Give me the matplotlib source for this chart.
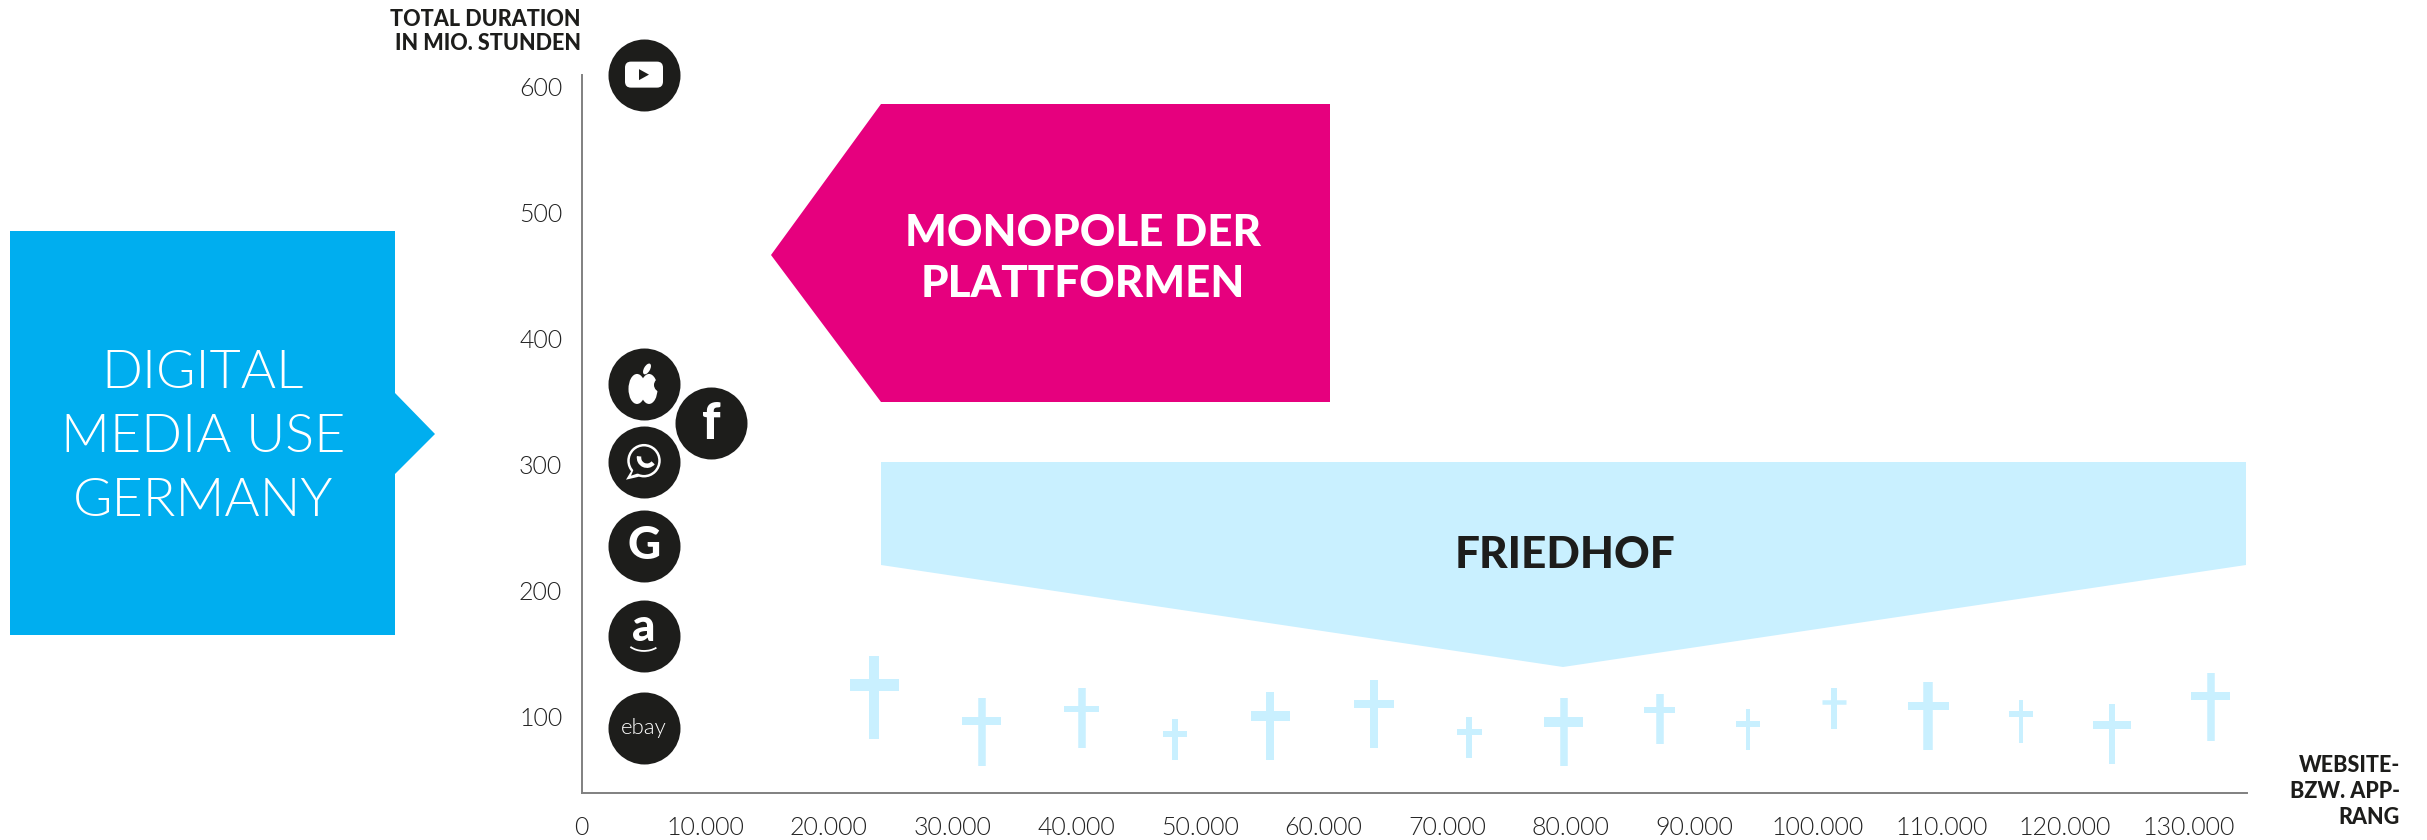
import matplotlib
matplotlib.use('Agg')
import matplotlib.pyplot as plt
from matplotlib import font_manager
from matplotlib.patches import Polygon, FancyBboxPatch, Circle, Ellipse, Arc

W, H = 2427, 840
plt.rcParams['font.family'] = ['Lato', 'DejaVu Sans']

DARK = '#1D1D1B'
PINK = '#E6007E'
BLUE = '#00AEEF'
PALE = '#C9F0FF'

# "light" by name lands on Lato Hairline, so look the real Light file up
light_files = [f.fname for f in font_manager.fontManager.ttflist
               if f.name == 'Lato' and f.fname.endswith('Lato-Light.ttf')]
if light_files:
    def light(size):
        return font_manager.FontProperties(fname=light_files[0], size=size)
else:
    def light(size):
        return font_manager.FontProperties(family='Lato', size=size)

# apps: rank, total duration
app_names = ['youtube', 'apple', 'facebook', 'whatsapp', 'google', 'amazon', 'ebay']
app_rank = [5040, 5040, 10460, 5040, 5040, 5040, 5040]
app_hours = [609.8, 364.3, 333.3, 302.6, 235.7, 164.3, 91.3]

# crosses on the "Friedhof": rank, lower end, upper end, height of the arm
cross_rank = [23660, 32360, 40450, 48010, 55690, 64100, 71790, 79460, 87210, 94380,
              101300, 108950, 116440, 123810, 131800]
cross_low = [82.5, 61.1, 75.4, 65.9, 65.9, 75.4, 67.5, 61.1, 78.6, 73.8, 90.5, 73.8, 79.4, 62.7, 81.0]
cross_high = [148.4, 115.1, 123.0, 98.4, 119.8, 129.4, 100.0, 115.1, 118.3, 106.3, 123.0, 127.8, 113.5, 110.3, 134.9]
cross_arm = [125.4, 96.8, 106.3, 86.5, 100.8, 110.3, 88.1, 96.0, 105.6, 94.4, 112.0, 108.7, 102.4, 93.6, 116.7]
cross_span = [1980, 1580, 1420, 970, 1580, 1580, 1010, 1580, 1250, 970, 970, 1660, 970, 1500, 1580]

x_ticks = list(range(0, 140000, 10000))
x_labels = ['0', '10.000', '20.000', '30.000', '40.000', '50.000', '60.000', '70.000',
            '80.000', '90.000', '100.000', '110.000', '120.000', '130.000']
y_ticks = [100, 200, 300, 400, 500, 600]

# drawing sizes of the crosses, in pixels
stem_px = [10, 7.5, 7.5, 6, 8, 8, 6, 7.5, 7.5, 4, 6, 9.5, 4, 6, 7.5]
bar_px = [12, 8, 6, 6, 10, 8, 6, 10, 6, 6, 4.5, 8, 6, 8, 8]

fig = plt.figure(figsize=(W / 100, H / 100), dpi=100, facecolor='white')

# the shapes and headings are laid out in picture pixels
deco = fig.add_axes([0, 0, 1, 1], zorder=1)
deco.set_xlim(0, W)
deco.set_ylim(H, 0)
deco.axis('off')

deco.add_patch(Polygon([(10, 231), (395, 231), (395, 393), (435, 434), (395, 474), (395, 635), (10, 635)],
                       fc=BLUE, ec='none'))
deco.add_patch(Polygon([(771, 255), (881, 104), (1330, 104), (1330, 402), (881, 402)], fc=PINK, ec='none'))
deco.add_patch(Polygon([(881, 462), (2246, 462), (2246, 565), (1563, 667), (881, 565)], fc=PALE, ec='none'))

deco.text(203, 373, 'DIGITAL', color='white', fontproperties=light(38.8), ha='center', va='center')
deco.text(203, 438, 'MEDIA USE', color='white', fontproperties=light(38.8), ha='center', va='center')
deco.text(203, 501, 'GERMANY', color='white', fontproperties=light(38.8), ha='center', va='center')
deco.text(1083, 233, 'MONOPOLE DER', color='white', fontsize=31.6, fontweight='black', ha='center', va='center')
deco.text(1083, 284, 'PLATTFORMEN', color='white', fontsize=31.6, fontweight='black', ha='center', va='center')
deco.text(1565, 555, 'FRIEDHOF', color=DARK, fontsize=31.8, fontweight='black', ha='center', va='center')

deco.text(581, 19, 'TOTAL DURATION', color=DARK, fontsize=15.5, fontweight='black', ha='right', va='center')
deco.text(581, 43, 'IN MIO. STUNDEN', color=DARK, fontsize=15.5, fontweight='black', ha='right', va='center')
deco.text(2400, 766, 'WEBSITE-', color=DARK, fontsize=15.5, fontweight='black', ha='right', va='center')
deco.text(2400, 791, 'BZW. APP-', color=DARK, fontsize=15.5, fontweight='black', ha='right', va='center')
deco.text(2400, 817, 'RANG', color=DARK, fontsize=15.5, fontweight='black', ha='right', va='center')

# chart axes
left, right, bottom, top = 581.7, 2247, 792.7, 75
ax = fig.add_axes([left / W, 1 - bottom / H, (right - left) / W, (bottom - top) / H], zorder=2)
ax.patch.set_alpha(0)
ax.set_xlim(0, 134730)
ax.set_ylim(39.9, 609.5)
for side in ['top', 'right']:
    ax.spines[side].set_visible(False)
for side in ['left', 'bottom']:
    ax.spines[side].set_color('#808080')
    ax.spines[side].set_linewidth(1.4)
ax.set_xticks(x_ticks)
ax.set_xticklabels(x_labels)
ax.set_yticks(y_ticks)
ax.tick_params(axis='x', length=0, pad=17, labelcolor='#222222')
ax.tick_params(axis='y', length=0, pad=14, labelcolor='#222222')
for lab in ax.get_xticklabels() + ax.get_yticklabels():
    lab.set_fontproperties(light(18))

# crosses
ax.vlines(cross_rank, cross_low, cross_high, colors=PALE, linewidths=[p * 0.72 for p in stem_px])
ax.hlines(cross_arm, [r - s for r, s in zip(cross_rank, cross_span)],
          [r + s for r, s in zip(cross_rank, cross_span)], colors=PALE, linewidths=[p * 0.72 for p in bar_px])

# app markers
ax.scatter(app_rank, app_hours, s=2687, c=DARK, linewidths=0, clip_on=False, zorder=3)

# white glyphs on the markers, drawn in pixels around each centre
def centre(name):
    i = app_names.index(name)
    return ax.transData.transform((app_rank[i], app_hours[i])) * [1, -1] + [0, H]

deco2 = fig.add_axes([0, 0, 1, 1], zorder=3)
deco2.set_xlim(0, W)
deco2.set_ylim(H, 0)
deco2.axis('off')
deco2.patch.set_alpha(0)

cx, cy = centre('youtube')
deco2.add_patch(FancyBboxPatch((cx - 19, cy - 13), 38, 26, boxstyle='round,pad=0,rounding_size=6', fc='white', ec='none'))
deco2.add_patch(Polygon([(cx - 5, cy - 5.5), (cx + 5, cy), (cx - 5, cy + 5.5)], fc=DARK, ec='none'))

cx, cy = centre('apple')
deco2.add_patch(Ellipse((cx - 7, cy + 5), 17, 30, fc='white', ec='none'))
deco2.add_patch(Ellipse((cx + 5, cy + 5), 17, 30, fc='white', ec='none'))
deco2.add_patch(Circle((cx + 17, cy + 1), 7, fc=DARK, ec='none'))
deco2.add_patch(Ellipse((cx + 3, cy - 15), 6, 12, angle=30, fc='white', ec='none'))

cx, cy = centre('facebook')
deco2.text(cx, cy + 1, 'f', color='white', fontsize=37, fontweight='black', ha='center', va='center')

cx, cy = centre('whatsapp')
deco2.add_patch(Circle((cx, cy - 1), 15.5, fc='none', ec='white', lw=1.8))
deco2.add_patch(Polygon([(cx - 12, cy + 8), (cx - 18, cy + 18), (cx - 5, cy + 15)], fc='white', ec='none'))
deco2.add_patch(Polygon([(cx - 10, cy + 7), (cx - 13, cy + 14), (cx - 4, cy + 11)], fc=DARK, ec='none'))
deco2.add_patch(Arc((cx + 3, cy - 4), 16, 16, theta1=40, theta2=190, ec='white', lw=3.2))

cx, cy = centre('google')
deco2.text(cx, cy, 'G', color='white', fontsize=33, fontweight='black', ha='center', va='center')

cx, cy = centre('amazon')
deco2.text(cx, cy - 8, 'a', color='white', fontsize=33, fontweight='black', ha='center', va='center')
deco2.add_patch(Arc((cx, cy + 3), 36, 24, theta1=35, theta2=150, ec='white', lw=1.3))

cx, cy = centre('ebay')
deco2.text(cx, cy, 'ebay', color='white', fontproperties=light(16), ha='center', va='center')

fig.savefig('out.png', dpi=100)
